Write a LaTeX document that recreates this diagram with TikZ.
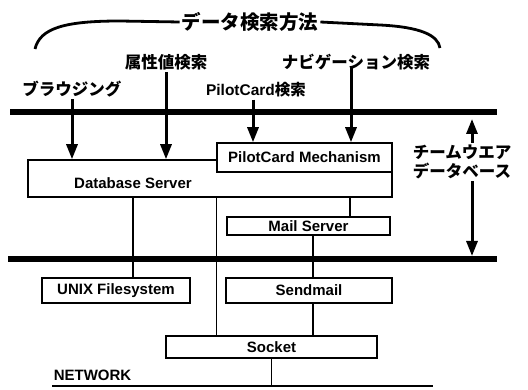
\documentclass[tikz,border=0pt]{standalone}
\usepackage{fontspec}
\setmainfont{Liberation Sans}[BoldFont=* Bold]
\newfontfamily\jpfont{Noto Sans CJK JP}
\usetikzlibrary{arrows.meta,positioning,calc}

\begin{document}
\begin{tikzpicture}[x=1pt,y=-1pt,
				box/.style={rectangle, draw, line width=1.5pt, fill=white, inner sep=0pt, font=\fontsize{15}{17}\selectfont\bfseries},
				jplabel/.style={inner sep=2pt, font=\fontsize{16.5}{19}\selectfont\jpfont\bfseries, align=center},
				bus/.style={line width=5.5pt},
				link/.style={line width=1.2pt},
				search/.style={line width=3pt, -{Triangle[length=15pt,width=11pt]}}
				]
				\useasboundingbox (0,0) rectangle (528,390);
				% retrieval methods
				\node[jplabel, font=\fontsize{19.5}{22}\selectfont\jpfont\bfseries] (title) at (250,22) {データ検索方法};
				\draw[line width=2.8pt] (35,49) .. controls (40,28) and (65,21) .. (120,21) -- (title.west);
				\draw[line width=2.8pt] (title.east) -- (380,25) .. controls (420,27) and (438,35) .. (440,48);
				\node[jplabel] (browse) at (72,89) {ブラウジング};
				\node[jplabel] (attr) at (166,62) {属性値検索};
				\node[jplabel, font=\fontsize{15.5}{18}\selectfont\bfseries] (pcsearch) at (256,90) {PilotCard{\jpfont 検索}};
				\node[jplabel] (navi) at (356,62) {ナビゲーション検索};
				
				% teamware database layer
				\coordinate (top1) at (10,112);
				\coordinate (top2) at (497,112);
				\coordinate (bot1) at (8,259);
				\coordinate (bot2) at (497,259);
				\draw[bus] (top1) -- (top2);
				\draw[bus] (bot1) -- (bot2);
				
				\node[box, minimum width=364pt, minimum height=37pt] (db) at (210,178.5) {};
				\node[box, draw=none, fill=none] (dbtext) at (133,183) {Database Server};
				\node[box, minimum width=175pt, minimum height=29pt] (pcm) at (304.5,157.5) {PilotCard Mechanism};
				\node[box, minimum width=163pt, minimum height=18pt] (mail) at (308.5,226) {Mail Server};
				\node[box, minimum width=148pt, minimum height=25pt] (unix) at (116,290.5) {UNIX Filesystem};
				\node[box, minimum width=166pt, minimum height=25pt] (sendmail) at (309,290.5) {Sendmail};
				\node[box, minimum width=211pt, minimum height=22pt] (socket) at (271.5,347) {Socket};
				
				\node[box, draw=none, fill=none, anchor=west] (network) at (53,375) {NETWORK};
				\coordinate (net1) at (52,386);
				\coordinate (net2) at (433,386);
				\draw[line width=1.4pt] (net1) -- (net2);
				
				\node[jplabel] (team) at (462,162) {チームウエア\\データベース};
				
				% arrows
				\draw[search] (browse.south) -- (browse.south |- db.north);
				\draw[search] (attr.south) -- (attr.south |- db.north);
				\draw[search] ([xshift=-3pt]pcsearch.south) -- ([xshift=-3pt]pcsearch.south |- pcm.north);
				\draw[search] ([xshift=-5pt,yshift=6pt]navi.south) -- ([xshift=-5pt]navi.south |- pcm.north);
				\draw[search, shorten >=7pt] ([xshift=10pt]team.north) -- ([xshift=10pt]team.north |- top1);
				\draw[search, shorten >=3pt] ([xshift=10pt]team.south) -- ([xshift=10pt]team.south |- bot1);
				
				% connections
				\draw[link] ([xshift=17pt]unix.north) -- ([xshift=17pt]unix.north |- db.south);
				\draw[link] (pcm.west |- db.south) -- (pcm.west |- socket.north);
				\draw[link] ([xshift=41.5pt]mail.north) -- ([xshift=41.5pt]mail.north |- db.south);
				\draw[link] ([xshift=4.5pt]mail.south) -- ([xshift=4.5pt]mail.south |- sendmail.north);
				\draw[link] ([xshift=4pt]sendmail.south) -- ([xshift=4pt]sendmail.south |- socket.north);
				\draw[link] (socket.south) -- (socket.south |- net1);
\end{tikzpicture}
\end{document}
